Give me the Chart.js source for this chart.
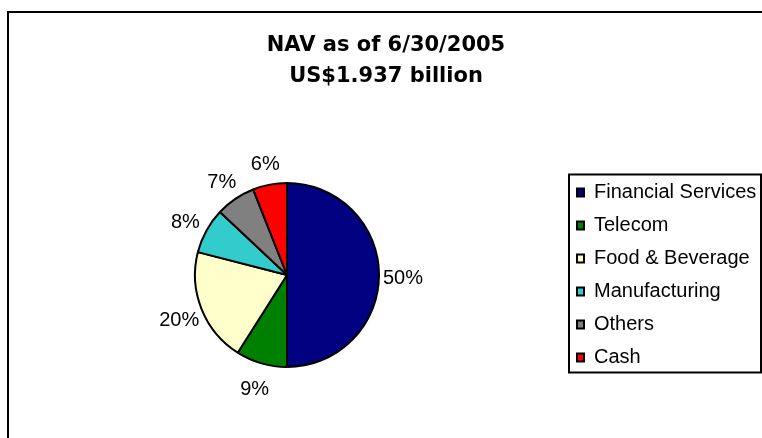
<!DOCTYPE html>
<html>
<head>
<meta charset="utf-8">
<script src="https://cdn.jsdelivr.net/npm/chart.js@4.4.1/dist/chart.umd.min.js"></script>
<style>
  html, body { margin: 0; padding: 0; background: #fff; overflow: hidden; }
  #frame { position: absolute; left: 7px; top: 11px; width: 800px; height: 500px; border: 2px solid #000; }
  #pie { position: absolute; left: 0; top: 0; }
</style>
</head>
<body>
<div id="frame"></div>
<canvas id="pie" width="762" height="438"></canvas>
<script>
const categories = ['Financial Services', 'Telecom', 'Food & Beverage', 'Manufacturing', 'Others', 'Cash'];
const shares = [50, 9, 20, 8, 7, 6];
const sliceColors = ['#000080', '#008000', '#FFFFCC', '#33CCCC', '#808080', '#FF0000'];
const titleLines = ['NAV as of 6/30/2005', 'US$1.937 billion'];

const FONT = '"Liberation Sans", Arial, sans-serif';

// percent labels sitting just outside each slice
const sliceLabels = {
  id: 'sliceLabels',
  afterDatasetsDraw(chart) {
    const ctx = chart.ctx;
    const meta = chart.getDatasetMeta(0);
    ctx.save();
    ctx.font = '20px ' + FONT;
    ctx.fillStyle = '#000';
    ctx.textAlign = 'center';
    ctx.textBaseline = 'middle';
    meta.data.forEach((arc, i) => {
      const { x, y, startAngle, endAngle, outerRadius } =
        arc.getProps(['x', 'y', 'startAngle', 'endAngle', 'outerRadius'], true);
      const mid = (startAngle + endAngle) / 2;
      const d = outerRadius + 24;
      ctx.fillText(shares[i] + '%', x + Math.cos(mid) * d, y + Math.sin(mid) * d + 3);
    });
    ctx.restore();
  }
};

// box round the legend, like the excel one
const legendFrame = {
  id: 'legendFrame',
  afterDraw(chart) {
    const boxes = chart.legend.legendHitBoxes;
    if (!boxes || !boxes.length) return;
    const first = boxes[0], last = boxes[boxes.length - 1];
    const x = first.left - 8, y = first.top - 8;
    const ctx = chart.ctx;
    ctx.save();
    ctx.lineWidth = 2;
    ctx.strokeStyle = '#000';
    ctx.strokeRect(x, y, 761 - x, last.top + last.height + 5 - y);
    ctx.restore();
  }
};

new Chart(document.getElementById('pie'), {
  type: 'pie',
  data: {
    labels: categories,
    datasets: [{
      data: shares,
      backgroundColor: sliceColors,
      borderColor: '#000',
      borderWidth: 2,
      radius: 92
    }]
  },
  options: {
    responsive: false,
    animation: false,
    devicePixelRatio: 1,
    layout: { padding: { left: 10, right: 0, top: 0, bottom: 48 } },
    plugins: {
      title: {
        display: true,
        text: titleLines,
        color: '#000',
        font: { family: '"DejaVu Sans", sans-serif', size: 21, weight: 'bold', lineHeight: 1.476 },
        padding: { top: 30, bottom: 68 }
      },
      legend: {
        position: 'right',
        fullSize: false,
        maxWidth: 198,
        labels: {
          color: '#000',
          font: { family: FONT, size: 20 },
          boxWidth: 7,
          boxHeight: 8,
          padding: 13
        }
      },
      tooltip: { enabled: false }
    }
  },
  plugins: [sliceLabels, legendFrame]
});
</script>
</body>
</html>
